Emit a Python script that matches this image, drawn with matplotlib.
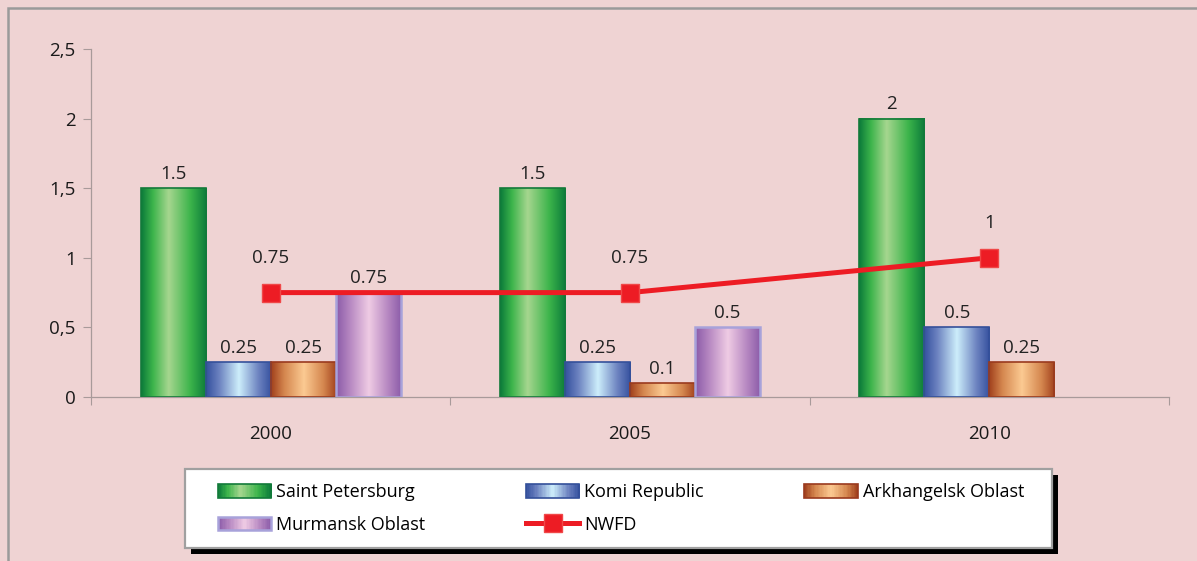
import matplotlib.pyplot as plt
import numpy as np
from matplotlib.colors import LinearSegmentedColormap
from matplotlib.legend_handler import HandlerBase
from matplotlib.patches import Rectangle

years = ['2000', '2005', '2010']
saint_petersburg = [1.5, 1.5, 2]
komi_republic = [0.25, 0.25, 0.5]
arkhangelsk = [0.25, 0.1, 0.25]
murmansk = [0.75, 0.5, np.nan]
nwfd = [0.75, 0.75, 1]
yticks = [0, 0.5, 1, 1.5, 2, 2.5]
ytick_labels = ['0', '0,5', '1', '1,5', '2', '2,5']

bg = '#efd3d3'
W, H = 1197, 561
plt.rcParams['font.family'] = ['Open Sans', 'DejaVu Sans']

# gradient styles: (positions, colors, edge color, edge width)
styles = {
    'Saint Petersburg': ([0, 0.18, 0.42, 0.75, 1],
                         ['#0b7a3a', '#3cb44b', '#a6d68f', '#3cb44b', '#0b7a3a'], '#137a3a', 1.2),
    'Komi Republic': ([0, 0.2, 0.5, 0.8, 1],
                      ['#34509e', '#6c82c0', '#cdeefb', '#6c82c0', '#34509e'], '#34509a', 1.2),
    'Arkhangelsk Oblast': ([0, 0.2, 0.5, 0.8, 1],
                           ['#a0401c', '#d4864e', '#fcca92', '#d4864e', '#a0401c'], '#9a3a1e', 1.2),
    'Murmansk Oblast': ([0, 0.2, 0.5, 0.8, 1],
                        ['#8a5aa8', '#b485c0', '#efcbe4', '#b485c0', '#8a5aa8'], '#a8a2da', 1.8),
}
series = [('Saint Petersburg', saint_petersburg), ('Komi Republic', komi_republic),
          ('Arkhangelsk Oblast', arkhangelsk), ('Murmansk Oblast', murmansk)]


def make_cmap(name):
    pos, cols, _, _ = styles[name]
    return LinearSegmentedColormap.from_list(name, list(zip(pos, cols)))


class GradientHandler(HandlerBase):
    def __init__(self, name):
        super().__init__()
        self.name = name

    def create_artists(self, legend, orig_handle, xdescent, ydescent, width, height, fontsize, trans):
        cmap = make_cmap(self.name)
        edge, lw = styles[self.name][2], styles[self.name][3]
        n = 40
        arts = []
        for i in range(n):
            r = Rectangle((-xdescent + width * i / n, -ydescent), width / n + 0.3, height,
                          facecolor=cmap((i + 0.5) / n), edgecolor='none', transform=trans)
            arts.append(r)
        arts.append(Rectangle((-xdescent, -ydescent), width, height, fill=False,
                              edgecolor=edge, lw=lw, transform=trans))
        return arts


fig = plt.figure(figsize=(W / 100, H / 100), dpi=100, facecolor=bg)
ax = fig.add_axes([91 / W, 1 - 397 / H, (1169 - 91) / W, (397 - 49) / H])
ax.set_facecolor(bg)

x = np.arange(len(years)) + 0.5
w = 0.181
handles = []
for i, (name, vals) in enumerate(series):
    edge, lw = styles[name][2], styles[name][3]
    bars = ax.bar(x + (i - 1.5) * w, vals, w, facecolor='none', edgecolor=edge, lw=lw, zorder=3)
    cmap = make_cmap(name)
    for b, v in zip(bars.patches, vals):
        if np.isnan(v):
            continue
        x0, bw, h = b.get_x(), b.get_width(), b.get_height()
        ax.imshow(np.linspace(0, 1, 256)[None, :], cmap=cmap, extent=[x0, x0 + bw, 0, h],
                  aspect='auto', zorder=2, interpolation='bilinear')
        ax.annotate(f'{v:g}', (x0 + bw / 2, h), xytext=(0, 4), textcoords='offset points',
                    ha='center', va='bottom', fontsize=13.5, color='#222222')
    handles.append(Rectangle((0, 0), 1, 1, label=name))

line, = ax.plot(x, nwfd, color='#ed1c24', lw=3.6, marker='s', ms=13, mec='#f04848',
                zorder=4, label='NWFD')
for xi, v in zip(x, nwfd):
    ax.annotate(f'{v:g}', (xi, v), xytext=(0, 25), textcoords='offset points',
                ha='center', va='center', fontsize=13.5, color='#222222')

ax.set_xlim(0, 3)
ax.set_ylim(0, 2.5)
ax.set_yticks(yticks)
ax.set_yticklabels(ytick_labels, fontsize=13.5, color='#1a1a1a')
ax.set_xticks([0, 1, 2, 3])
ax.set_xticklabels([])
ax.set_xticks(x, minor=True)
ax.set_xticklabels(years, minor=True, fontsize=13.5, color='#1a1a1a')
ax.tick_params(axis='x', which='minor', length=0, pad=20)
ax.tick_params(axis='x', which='major', length=6, color='#a89a9a', direction='out')
ax.tick_params(axis='y', length=6, color='#a89a9a', pad=5)
for s in ['top', 'right']:
    ax.spines[s].set_visible(False)
for s in ['left', 'bottom']:
    ax.spines[s].set_color('#a89a9a')
    ax.spines[s].set_linewidth(0.9)

# legend box with black drop shadow
fig.add_artist(Rectangle((191 / W, 1 - 554 / H), 867 / W, 79 / H, facecolor='black',
                         edgecolor='none', transform=fig.transFigure, zorder=1))
fig.add_artist(Rectangle((185 / W, 1 - 548 / H), 867 / W, 79 / H, facecolor='white',
                         edgecolor='#a0a0a0', lw=1.6, transform=fig.transFigure, zorder=2))

hmap = {h: GradientHandler(h.get_label()) for h in handles}
leg = fig.legend(handles=[handles[0], handles[3], handles[1], line, handles[2]],
                 labels=['Saint Petersburg', 'Murmansk Oblast', 'Komi Republic', 'NWFD',
                         'Arkhangelsk Oblast'],
                 handler_map=hmap, ncol=3, loc='center left', mode='expand',
                 bbox_to_anchor=(218 / W, 1 - 548 / H, (1024 - 218) / W, 79 / H),
                 fontsize=13, handlelength=2.95, handleheight=0.75, handletextpad=0.27,
                 labelspacing=0.8, borderpad=0, borderaxespad=0, frameon=False)
leg.set_zorder(3)

fig.add_artist(Rectangle((8 / W, -0.5), 2, 1.5 - 8 / H, fill=False, edgecolor='#9a9a9a',
                         lw=1.8, transform=fig.transFigure))

fig.savefig('out.png', dpi=100, facecolor=bg)
